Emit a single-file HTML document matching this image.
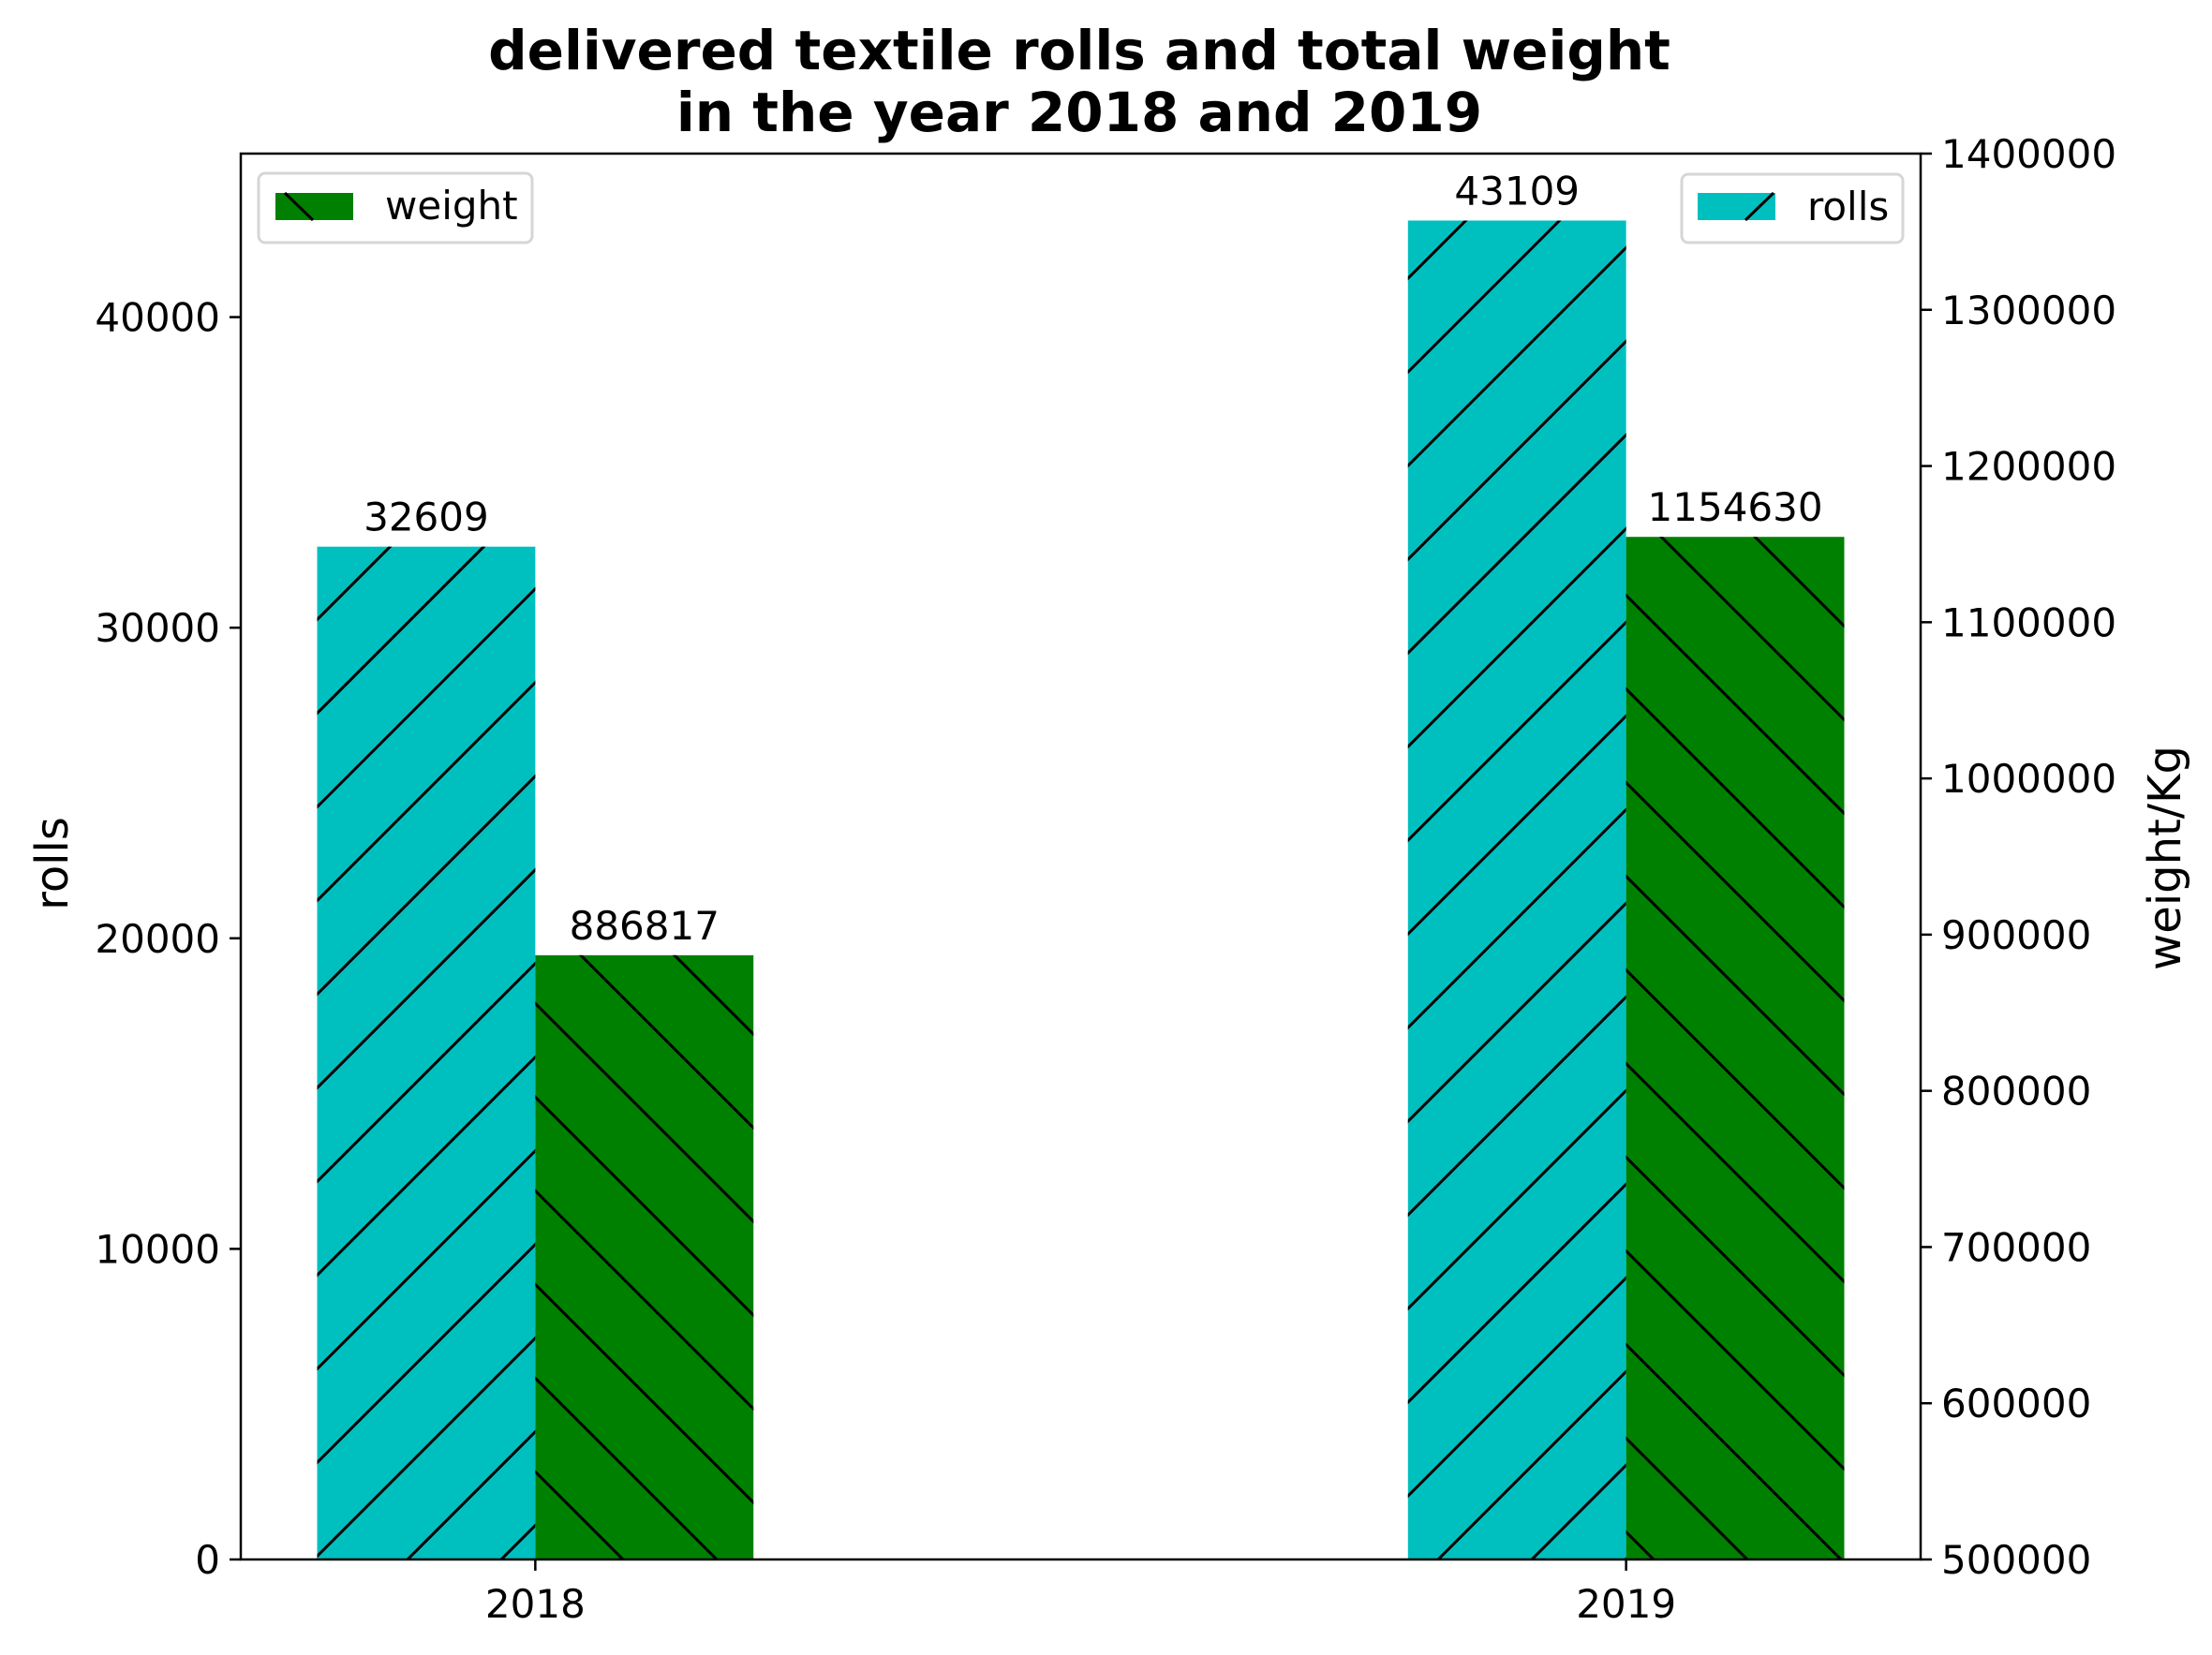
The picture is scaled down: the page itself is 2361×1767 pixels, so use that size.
<!DOCTYPE html>
<html><head><meta charset="utf-8"><style>
html,body{margin:0;padding:0;background:#fff;}
svg{display:block;font-family:"DejaVu Sans","Liberation Sans",sans-serif;}
</style></head><body>
<svg id="chart" width="2361" height="1767" viewBox="0 0 2361 1767" xmlns="http://www.w3.org/2000/svg">
<defs>
<pattern id="hatchF" patternUnits="userSpaceOnUse" width="100" height="100">
<line x1="0" y1="100" x2="100" y2="0" stroke="#000" stroke-width="3"/>
<line x1="-50" y1="50" x2="50" y2="-50" stroke="#000" stroke-width="3"/>
<line x1="50" y1="150" x2="150" y2="50" stroke="#000" stroke-width="3"/>
</pattern>
<pattern id="hatchB" patternUnits="userSpaceOnUse" width="100" height="100">
<line x1="0" y1="0" x2="100" y2="100" stroke="#000" stroke-width="3"/>
<line x1="-50" y1="50" x2="50" y2="150" stroke="#000" stroke-width="3"/>
<line x1="50" y1="-50" x2="150" y2="50" stroke="#000" stroke-width="3"/>
</pattern>
</defs>
<g id="bars"></g>
<g id="axes"></g>
<text x="1152" y="74" font-size="58" font-weight="bold" text-anchor="middle">delivered textile rolls and total weight</text>
<text x="1152" y="140" font-size="58" font-weight="bold" text-anchor="middle">in the year 2018 and 2019</text>
<text transform="translate(72,922) rotate(-90)" font-size="48" text-anchor="middle">rolls</text>
<text transform="translate(2327,916) rotate(-90)" font-size="48" text-anchor="middle">weight/Kg</text>
<g>
<rect x="276" y="185" width="292" height="74" rx="7" fill="#fff" stroke="#d6d6d6" stroke-width="3"/>
<rect x="294" y="206" width="83" height="29" fill="#008000"/>
<line x1="304" y1="206" x2="334" y2="235" stroke="#000" stroke-width="3"/>
<text x="411" y="234" font-size="42">weight</text>
</g>
<g>
<rect x="1795" y="186" width="236" height="73" rx="7" fill="#fff" stroke="#d6d6d6" stroke-width="3"/>
<rect x="1812" y="206" width="83" height="29" fill="#00bfbf"/>
<line x1="1863" y1="235" x2="1893" y2="206" stroke="#000" stroke-width="3"/>
<text x="1929" y="235" font-size="42">rolls</text>
</g>
</svg>
<script>
const categories = ['2018', '2019'];
const rollsValues = [32609, 43109];
const weightValues = [886817, 1154630];
const leftTicks = [0, 10000, 20000, 30000, 40000];
const rightTicks = [500000, 600000, 700000, 800000, 900000, 1000000, 1100000, 1200000, 1300000, 1400000];

const NS = 'http://www.w3.org/2000/svg';
const L = 257, R = 2050, T = 164, B = 1665;
const xMin = -0.27, xMax = 1.27;
const yLMax = 45264.45, yRMin = 500000, yRMax = 1400000;
const xS = v => L + (v - xMin) / (xMax - xMin) * (R - L);
const yL = v => B - v / yLMax * (B - T);
const yR = v => B - (v - yRMin) / (yRMax - yRMin) * (B - T);
const bw = 0.2;

function mk(tag, attrs, parent) {
  const e = document.createElementNS(NS, tag);
  for (const k in attrs) e.setAttribute(k, attrs[k]);
  parent.appendChild(e);
  return e;
}
const bars = document.getElementById('bars');
const axes = document.getElementById('axes');

categories.forEach((c, i) => {
  const x0 = xS(i - bw), x1 = xS(i), x2 = xS(i + bw);
  const yr = yL(rollsValues[i]);
  const g1 = mk('g', {}, bars);
  
  
  mk('rect', {x: x0, y: yr, width: x1 - x0, height: B - yr, fill: '#00bfbf'}, g1);
  mk('rect', {x: x0, y: yr, width: x1 - x0, height: B - yr, fill: 'url(#hatchF)'}, g1);
  const t1 = mk('text', {x: (x0 + x1) / 2, y: yr - 17, 'font-size': 42, 'text-anchor': 'middle'}, bars);
  
  
  t1.textContent = rollsValues[i];

  const yw = yR(weightValues[i]);
  const g2 = mk('g', {}, bars);
  
  
  mk('rect', {x: x1, y: yw, width: x2 - x1, height: B - yw, fill: '#008000'}, g2);
  mk('rect', {x: x1, y: yw, width: x2 - x1, height: B - yw, fill: 'url(#hatchB)'}, g2);
  const t2 = mk('text', {x: (x1 + x2) / 2, y: yw - 17, 'font-size': 42, 'text-anchor': 'middle'}, bars);
  
  
  t2.textContent = weightValues[i];

  const tk = mk('line', {x1: x1, x2: x1, y1: B, y2: B + 12, stroke: '#000', 'stroke-width': 2.5}, axes);
  
  
  const tl = mk('text', {x: x1, y: B + 62, 'font-size': 42, 'text-anchor': 'middle'}, axes);
  
  
  tl.textContent = c;
});

leftTicks.forEach(v => {
  const y = yL(v);
  const l = mk('line', {x1: L - 12, x2: L, y1: y, y2: y, stroke: '#000', 'stroke-width': 2.5}, axes);
  
  
  const t = mk('text', {x: L - 22, y: y + 15, 'font-size': 42, 'text-anchor': 'end'}, axes);
  
  
  t.textContent = v;
});
rightTicks.forEach(v => {
  const y = yR(v);
  const l = mk('line', {x1: R, x2: R + 12, y1: y, y2: y, stroke: '#000', 'stroke-width': 2.5}, axes);
  
  
  const t = mk('text', {x: R + 22, y: y + 15, 'font-size': 42, 'text-anchor': 'start'}, axes);
  
  
  t.textContent = v;
});
const frame = mk('rect', {x: L, y: T, width: R - L, height: B - T, fill: 'none', stroke: '#000', 'stroke-width': 2.5}, axes);


</script>
</body></html>
